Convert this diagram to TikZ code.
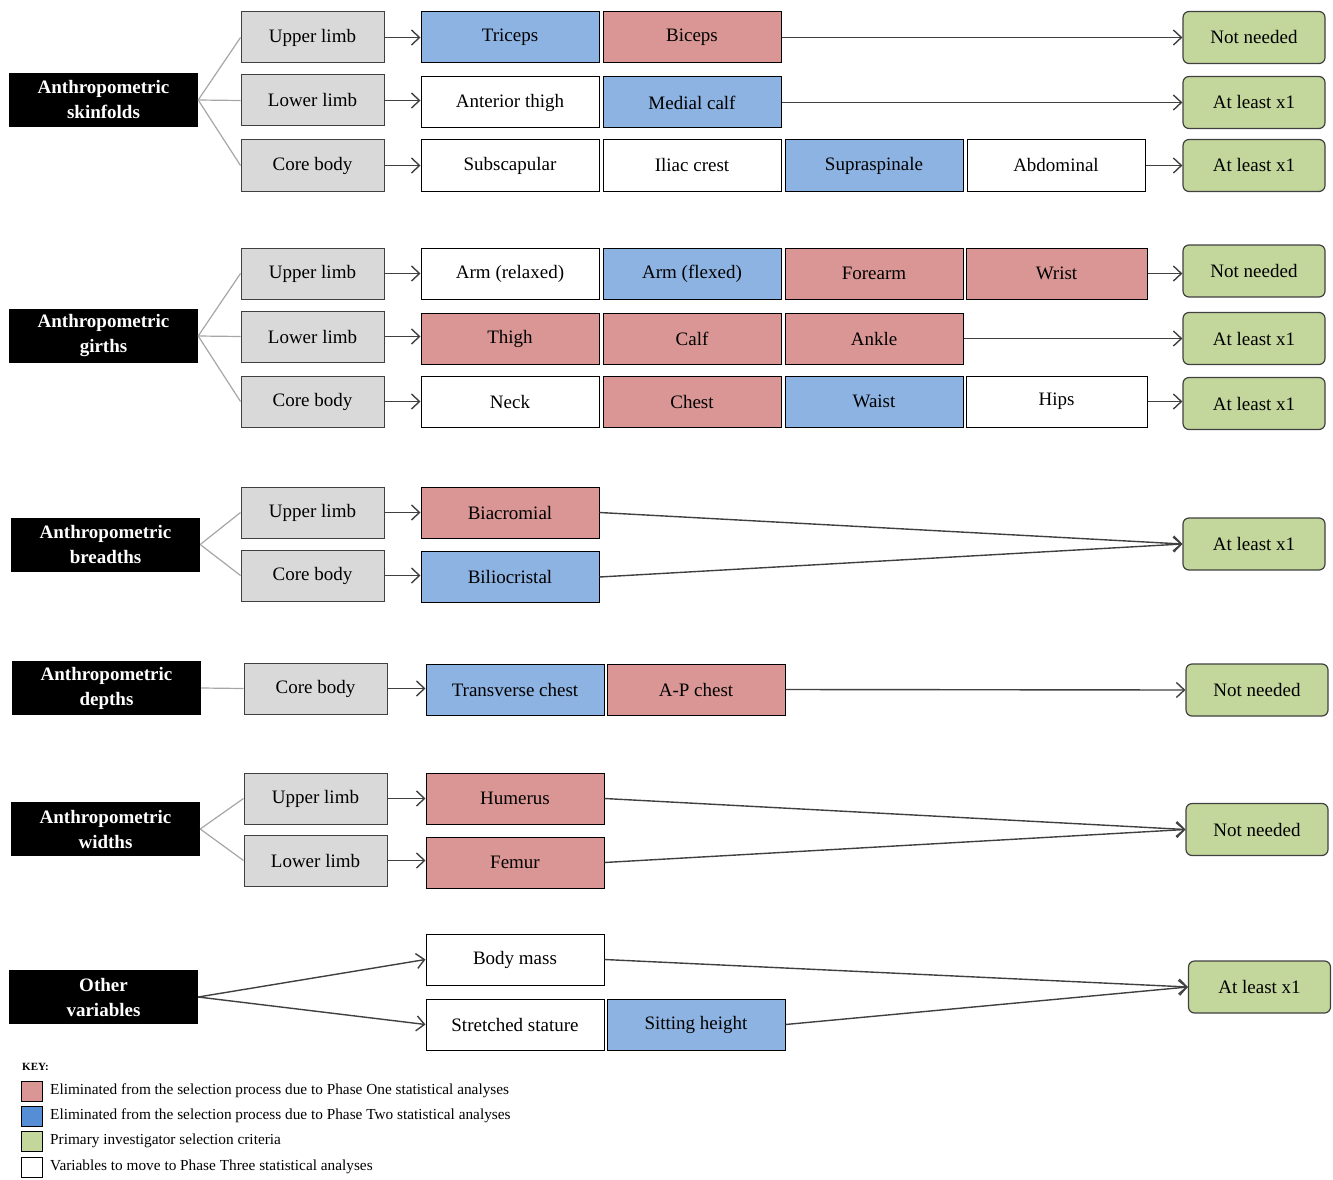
\documentclass[tikz,border=0pt]{standalone}
\usepackage{fontspec}
\setmainfont{Liberation Serif}
\usetikzlibrary{arrows.meta}
\definecolor{bblue}{HTML}{8DB3E2}
\definecolor{bred}{HTML}{D99694}
\definecolor{bgreen}{HTML}{C3D69B}
\definecolor{bgray}{HTML}{D9D9D9}
\definecolor{kblue}{HTML}{558ED5}
\definecolor{lgray}{HTML}{A6A6A6}
\definecolor{dgray}{HTML}{404040}
\begin{document}
\begin{tikzpicture}[x=1pt,y=-1pt,
 cell/.style={draw=black, line width=1pt, minimum width=178pt, minimum height=51pt, inner sep=0pt, font=\fontsize{19}{22}\selectfont},
 wcell/.style={cell, fill=white},
 bcell/.style={cell, fill=bblue},
 rcell/.style={cell, fill=bred},
 gcell/.style={cell, fill=bgray, minimum width=143pt, draw=dgray},
 ncell/.style={cell, fill=bgreen, rounded corners=6pt, minimum width=142pt, minimum height=52pt, draw=dgray, line width=1.2pt},
 head/.style={fill=black, minimum width=189pt, minimum height=54pt, inner sep=0pt, text=white, align=center, font=\fontsize{19}{25}\selectfont\bfseries},
 tie/.style={draw=lgray, line width=1.2pt},
 arr/.style={draw=dgray, line width=1.4pt, -{Straight Barb[length=8pt,width=15pt]}},
 keysq/.style={draw=black, line width=1pt, minimum width=21pt, minimum height=20pt, inner sep=0pt},
 keytxt/.style={anchor=west, inner sep=0pt, font=\fontsize{15.3}{17}\selectfont}
]
\useasboundingbox (0,0) rectangle (1333,1180);

% ---------- Section 1: skinfolds ----------
\node[head] (h1) at (103.5,100) {Anthropometric\\skinfolds};
\node[gcell] (g1a) at (312.5,37.5) {Upper limb};
\node[gcell] (g1b) at (312.5,100.5) {Lower limb};
\node[gcell] (g1c) at (312.5,165.5) {Core body};
\node[bcell] (tri) at (510,37.5) {Triceps};
\node[rcell] (bic) at (692,37.5) {Biceps};
\node[ncell] (n1a) at (1254,37.5) {Not needed};
\node[wcell] (ant) at (510,102.5) {Anterior thigh};
\node[bcell] (med) at (692,102.5) {Medial calf};
\node[ncell] (n1b) at (1254,102.5) {At least x1};
\node[wcell] (sub) at (510,165.5) {Subscapular};
\node[wcell] (ili) at (692,165.5) {Iliac crest};
\node[bcell] (sup) at (874,165.5) {Supraspinale};
\node[wcell] (abd) at (1056,165.5) {Abdominal};
\node[ncell] (n1c) at (1254,165.5) {At least x1};
\draw[tie] (h1.east) -- (g1a.west);
\draw[tie] (h1.east) -- (g1b.west);
\draw[tie] (h1.east) -- (g1c.west);
\draw[arr] (g1a.east) -- (g1a.east -| tri.west);
\draw[arr] (g1b.east) -- (g1b.east -| ant.west);
\draw[arr] (g1c.east) -- (g1c.east -| sub.west);
\draw[arr] (bic.east) -- (n1a.west);
\draw[arr] (med.east) -- (n1b.west);
\draw[arr] (abd.east) -- (n1c.west);

% ---------- Section 2: girths ----------
\node[head] (h2) at (103.5,336) {Anthropometric\\girths};
\node[gcell] (g2a) at (312.5,273.5) {Upper limb};
\node[gcell] (g2b) at (312.5,336.5) {Lower limb};
\node[gcell] (g2c) at (312.5,401.5) {Core body};
\node[wcell] (arel) at (510,273.5) {Arm (relaxed)};
\node[bcell] (afl) at (692,273.5) {Arm (flexed)};
\node[rcell] (fore) at (874,273.5) {Forearm};
\node[rcell, minimum width=181pt] (wri) at (1056.5,273.5) {Wrist};
\node[ncell] (n2a) at (1254,271) {Not needed};
\node[rcell] (thi) at (510,338.5) {Thigh};
\node[rcell] (calf) at (692,338.5) {Calf};
\node[rcell] (ank) at (874,338.5) {Ankle};
\node[ncell] (n2b) at (1254,338.5) {At least x1};
\node[wcell] (neck) at (510,401.5) {Neck};
\node[rcell] (chest) at (692,401.5) {Chest};
\node[bcell] (waist) at (874,401.5) {Waist};
\node[wcell, minimum width=181pt] (hips) at (1056.5,401.5) {Hips};
\node[ncell] (n2c) at (1254,403.5) {At least x1};
\draw[tie] (h2.east) -- (g2a.west);
\draw[tie] (h2.east) -- (g2b.west);
\draw[tie] (h2.east) -- (g2c.west);
\draw[arr] (g2a.east) -- (g2a.east -| arel.west);
\draw[arr] (g2b.east) -- (g2b.east -| thi.west);
\draw[arr] (g2c.east) -- (g2c.east -| neck.west);
\draw[arr] (wri.east) -- (wri.east -| n2a.west);
\draw[arr] (ank.east) -- (n2b.west);
\draw[arr] (hips.east) -- (hips.east -| n2c.west);

% ---------- Section 3: breadths ----------
\node[head] (h3) at (105.5,544.5) {Anthropometric\\breadths};
\node[gcell] (g3a) at (312.5,512.5) {Upper limb};
\node[gcell] (g3b) at (312.5,575.5) {Core body};
\node[rcell] (bia) at (510,512.5) {Biacromial};
\node[bcell] (bil) at (510,577) {Biliocristal};
\node[ncell] (n3) at (1254,544) {At least x1};
\draw[tie] (h3.east) -- (g3a.west);
\draw[tie] (h3.east) -- (g3b.west);
\draw[arr] (g3a.east) -- (g3a.east -| bia.west);
\draw[arr] (g3b.east) -- (g3b.east -| bil.west);
\draw[arr] (bia.east) -- (n3.west);
\draw[arr] (bil.east) -- (n3.west);

% ---------- Section 4: depths ----------
\node[head] (h4) at (106.5,688) {Anthropometric\\depths};
\node[gcell] (g4) at (315.5,688.5) {Core body};
\node[bcell] (tra) at (515,689.5) {Transverse chest};
\node[rcell] (apc) at (696,689.5) {A-P chest};
\node[ncell] (n4) at (1257,690) {Not needed};
\draw[tie] (h4.east) -- (g4.west);
\draw[arr] (g4.east) -- (g4.east -| tra.west);
\draw[arr] (apc.east) -- (n4.west);

% ---------- Section 5: widths ----------
\node[head] (h5) at (105.5,829) {Anthropometric\\widths};
\node[gcell] (g5a) at (315.5,798.5) {Upper limb};
\node[gcell] (g5b) at (315.5,860.5) {Lower limb};
\node[rcell] (hum) at (515,798.5) {Humerus};
\node[rcell] (fem) at (515,862.5) {Femur};
\node[ncell] (n5) at (1257,829.5) {Not needed};
\draw[tie] (h5.east) -- (g5a.west);
\draw[tie] (h5.east) -- (g5b.west);
\draw[arr] (g5a.east) -- (g5a.east -| hum.west);
\draw[arr] (g5b.east) -- (g5b.east -| fem.west);
\draw[arr] (hum.east) -- (n5.west);
\draw[arr] (fem.east) -- (n5.west);

% ---------- Section 6: other variables ----------
\node[head] (h6) at (103.5,997) {Other\\variables};
\node[wcell] (bm) at (515,959.5) {Body mass};
\node[wcell] (ss) at (515,1024.5) {Stretched stature};
\node[bcell] (sit) at (696,1024.5) {Sitting height};
\node[ncell] (n6) at (1259.5,987) {At least x1};
\draw[arr] (h6.east) -- (bm.west);
\draw[arr] (h6.east) -- (ss.west);
\draw[arr] (bm.east) -- (n6.west);
\draw[arr] (sit.east) -- (n6.west);

% ---------- Key ----------
\node[anchor=west, inner sep=0pt, font=\fontsize{11}{12}\selectfont\bfseries] (key) at (22,1067) {KEY:};
\node[keysq, fill=bred] (k1) at (32,1091) {};
\node[keysq, fill=kblue] (k2) at (32,1116) {};
\node[keysq, fill=bgreen] (k3) at (32,1141) {};
\node[keysq, fill=white] (k4) at (32,1167) {};
\node[keytxt] (t1) at (50,1091) {Eliminated from the selection process due to Phase One statistical analyses};
\node[keytxt] (t2) at (50,1116) {Eliminated from the selection process due to Phase Two statistical analyses};
\node[keytxt] (t3) at (50,1141) {Primary investigator selection criteria};
\node[keytxt] (t4) at (50,1167) {Variables to move to Phase Three statistical analyses};
\end{tikzpicture}
\end{document}
